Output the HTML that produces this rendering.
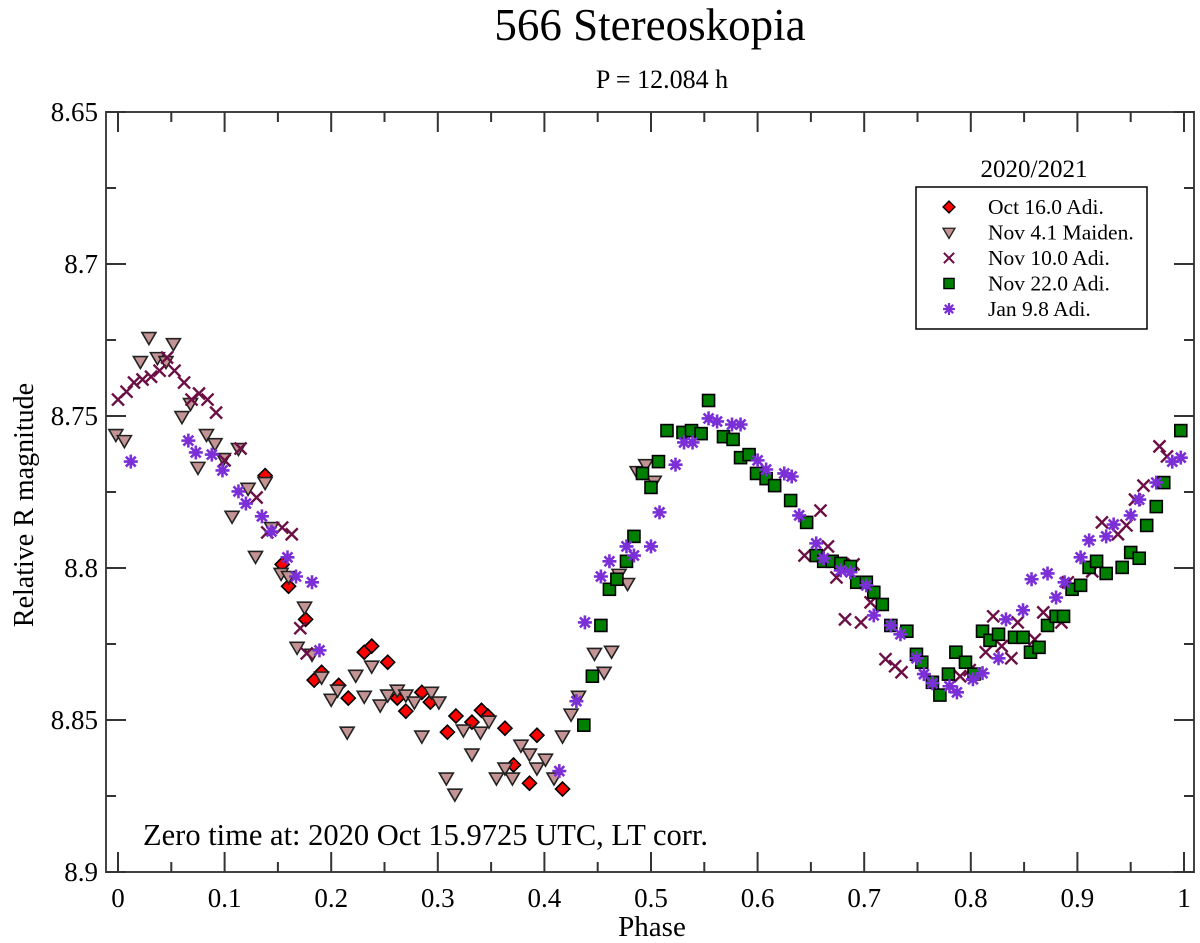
<!DOCTYPE html>
<html><head><meta charset="utf-8"><style>
html,body{margin:0;padding:0;background:#fff;}
svg{display:block;font-family:"Liberation Serif",serif;}
</style></head><body>
<svg id="chart" width="1200" height="943" viewBox="0 0 1200 943" xmlns="http://www.w3.org/2000/svg">
<text x="650" y="40" font-size="45" text-anchor="middle">566 Stereoskopia</text>
<text x="662" y="88" font-size="26" text-anchor="middle">P = 12.084 h</text>
<rect x="106" y="112" width="1088" height="760" fill="none" stroke="#444" stroke-width="2"/>
<g id="ticks"></g>
<g id="marks"></g>
<text x="143" y="845" font-size="30.5">Zero time at: 2020 Oct 15.9725 UTC, LT corr.</text>
<text x="652" y="936" font-size="29" text-anchor="middle">Phase</text>
<text transform="translate(33,505) rotate(-90)" font-size="28" text-anchor="middle">Relative R magnitude</text>
<g>
<text x="1034" y="177" font-size="25" text-anchor="middle">2020/2021</text>
<rect x="916" y="187" width="231" height="142" fill="#fff" stroke="#000" stroke-width="1.5"/>
<g id="legend"></g>
</g>
</svg>
<script>
const xTicks=[0,0.1,0.2,0.3,0.4,0.5,0.6,0.7,0.8,0.9,1];
const xTickLabels=["0","0.1","0.2","0.3","0.4","0.5","0.6","0.7","0.8","0.9","1"];
const yTicks=[8.65,8.7,8.75,8.8,8.85,8.9];
const yTickLabels=["8.65","8.7","8.75","8.8","8.85","8.9"];

const octPhase=[0.138,0.154,0.160,0.176,0.184,0.191,0.207,0.216,0.231,0.238,0.253,0.262,0.270,0.285,0.293,0.309,0.317,0.332,0.341,0.347,0.363,0.371,0.386,0.393,0.417];
const octMag=[8.7696,8.7988,8.8060,8.8169,8.8369,8.8343,8.8386,8.8428,8.8277,8.8257,8.8310,8.8428,8.8471,8.8409,8.8441,8.8540,8.8487,8.8507,8.8468,8.8487,8.8527,8.8648,8.8708,8.8550,8.8727];

const nov4Phase=[-0.002,0.006,0.021,0.029,0.037,0.045,0.052,0.060,0.068,0.075,0.083,0.091,0.099,0.107,0.113,0.122,0.129,0.138,0.144,0.153,0.160,0.175,0.168,0.182,0.191,0.200,0.206,0.215,0.223,0.238,0.231,0.246,0.253,0.262,0.270,0.278,0.285,0.294,0.301,0.308,0.316,0.324,0.332,0.340,0.348,0.355,0.363,0.370,0.378,0.386,0.393,0.401,0.409,0.417,0.425,0.432,0.447,0.456,0.463,0.470,0.478,0.487,0.495,0.503];
const nov4Mag=[8.7561,8.7581,8.7321,8.7242,8.7308,8.7321,8.7262,8.7502,8.7459,8.7669,8.7561,8.7591,8.7640,8.7830,8.7607,8.7738,8.7962,8.7719,8.7867,8.8018,8.8028,8.8129,8.8261,8.8284,8.8359,8.8432,8.8402,8.8540,8.8353,8.8323,8.8422,8.8451,8.8418,8.8402,8.8418,8.8441,8.8553,8.8409,8.8441,8.8691,8.8744,8.8533,8.8612,8.8540,8.8504,8.8691,8.8658,8.8691,8.8583,8.8612,8.8658,8.8629,8.8691,8.8553,8.8481,8.8422,8.8281,8.8343,8.8274,8.8021,8.8051,8.7683,8.7660,8.7715];

const nov10Phase=[0.000,0.008,0.015,0.023,0.031,0.039,0.046,0.053,0.062,0.069,0.076,0.084,0.092,0.100,0.115,0.130,0.140,0.154,0.163,0.171,0.177,0.644,0.659,0.666,0.674,0.690,0.682,0.697,0.706,0.720,0.729,0.735,0.790,0.799,0.814,0.821,0.829,0.838,0.844,0.860,0.868,0.885,0.891,0.914,0.923,0.938,0.946,0.954,0.962,0.977,0.984];
const nov10Mag=[8.7446,8.7420,8.7390,8.7380,8.7371,8.7351,8.7308,8.7351,8.7390,8.7446,8.7426,8.7446,8.7489,8.7646,8.7607,8.7768,8.7883,8.7867,8.7889,8.8198,8.8281,8.7959,8.7811,8.7929,8.8031,8.7988,8.8169,8.8179,8.8113,8.8300,8.8323,8.8343,8.8356,8.8336,8.8277,8.8159,8.8257,8.8297,8.8179,8.8235,8.8146,8.8179,8.8047,8.8011,8.7850,8.7889,8.7860,8.7775,8.7729,8.7600,8.7633];

const nov22Phase=[0.437,0.445,0.453,0.461,0.468,0.477,0.484,0.492,0.500,0.507,0.515,0.530,0.538,0.547,0.554,0.568,0.577,0.584,0.592,0.599,0.608,0.616,0.631,0.646,0.655,0.662,0.670,0.678,0.687,0.693,0.702,0.709,0.717,0.725,0.740,0.749,0.754,0.764,0.771,0.779,0.786,0.795,0.803,0.811,0.818,0.826,0.841,0.849,0.856,0.864,0.872,0.880,0.887,0.895,0.903,0.911,0.918,0.927,0.942,0.950,0.958,0.965,0.974,0.981,0.997];
const nov22Mag=[8.8517,8.8356,8.8189,8.8070,8.8037,8.7978,8.7896,8.7689,8.7735,8.7650,8.7548,8.7554,8.7548,8.7558,8.7449,8.7568,8.7577,8.7637,8.7627,8.7689,8.7706,8.7729,8.7778,8.7850,8.7959,8.7978,8.7978,8.7985,8.7995,8.8047,8.8047,8.8080,8.8120,8.8189,8.8208,8.8284,8.8310,8.8376,8.8418,8.8349,8.8277,8.8310,8.8349,8.8208,8.8238,8.8218,8.8228,8.8228,8.8277,8.8261,8.8189,8.8159,8.8159,8.8070,8.8057,8.7998,8.7978,8.8018,8.7998,8.7949,8.7968,8.7860,8.7798,8.7719,8.7548];

const janPhase=[0.012,0.066,0.073,0.088,0.098,0.113,0.120,0.135,0.144,0.159,0.167,0.182,0.189,0.414,0.430,0.438,0.453,0.461,0.477,0.484,0.500,0.508,0.523,0.531,0.539,0.554,0.562,0.576,0.584,0.600,0.608,0.625,0.632,0.639,0.655,0.662,0.678,0.687,0.702,0.709,0.725,0.734,0.749,0.756,0.764,0.780,0.787,0.802,0.811,0.826,0.833,0.849,0.857,0.872,0.880,0.888,0.903,0.911,0.927,0.934,0.950,0.958,0.974,0.989,0.997];
const janMag=[8.7650,8.7581,8.7620,8.7627,8.7679,8.7748,8.7788,8.7830,8.7880,8.7965,8.8028,8.8047,8.8271,8.8668,8.8438,8.8179,8.8028,8.7978,8.7929,8.7959,8.7929,8.7817,8.7660,8.7587,8.7587,8.7508,8.7518,8.7528,8.7528,8.7646,8.7676,8.7689,8.7699,8.7827,8.7919,8.7968,8.8008,8.8014,8.8057,8.8156,8.8189,8.8218,8.8297,8.8349,8.8379,8.8389,8.8409,8.8366,8.8346,8.8297,8.8169,8.8139,8.8037,8.8018,8.8097,8.8047,8.7965,8.7909,8.7896,8.7857,8.7827,8.7775,8.7719,8.7650,8.7637];

const NS="http://www.w3.org/2000/svg";
const X0=118, XS=1066, Y0=112, YS=3040, YMIN=8.65;
function sx(p){return X0+p*XS;}
function sy(m){return Y0+(m-YMIN)*YS;}
function mk(tag,attrs,parent){const e=document.createElementNS(NS,tag);for(const k in attrs)e.setAttribute(k,attrs[k]);parent.appendChild(e);return e;}

const ticks=document.getElementById('ticks');
for(let i=0;i<=20;i++){
  const p=i*0.05, x=sx(p), len=(i%2===0)?20:10;
  const t1=mk('line',{x1:x,y1:872,x2:x,y2:872-len,stroke:'#333','stroke-width':2},ticks);
  
  
  const t2=mk('line',{x1:x,y1:112,x2:x,y2:112+len,stroke:'#333','stroke-width':2},ticks);
  
  
}
for(let i=0;i<=10;i++){
  const m=YMIN+i*0.025, y=sy(m), len=(i%2===0)?20:10;
  const t1=mk('line',{x1:106,y1:y,x2:106+len,y2:y,stroke:'#333','stroke-width':2},ticks);
  
  
  const t2=mk('line',{x1:1194,y1:y,x2:1194-len,y2:y,stroke:'#333','stroke-width':2},ticks);
  
  
}
xTicks.forEach((v,i)=>{
  const t=mk('text',{x:sx(v),y:907,'font-size':27,'text-anchor':'middle'},ticks);
  t.textContent=xTickLabels[i];
  
  
});
yTicks.forEach((v,i)=>{
  const t=mk('text',{x:98,y:sy(v)+9,'font-size':27,'text-anchor':'end'},ticks);
  t.textContent=yTickLabels[i];
  
  
});

function drawMarker(type,x,y,parent){
  let e;
  if(type==='diamond'){
    e=mk('path',{d:`M${x} ${y-7}L${x+7} ${y}L${x} ${y+7}L${x-7} ${y}Z`,fill:'#ff0000',stroke:'#000','stroke-width':1.6},parent);
  }else if(type==='tri'){
    e=mk('path',{d:`M${x-7} ${y-5}L${x+7} ${y-5}L${x} ${y+7}Z`,fill:'#c49494',stroke:'#222','stroke-width':1.6},parent);
  }else if(type==='cross'){
    e=mk('path',{d:`M${x-6} ${y-6}L${x+6} ${y+6}M${x+6} ${y-6}L${x-6} ${y+6}`,stroke:'#6b0f45','stroke-width':2.4,fill:'none'},parent);
  }else if(type==='square'){
    e=mk('rect',{x:x-6,y:y-6,width:12,height:12,fill:'#008000',stroke:'#000','stroke-width':1.6},parent);
  }else{
    let d='';
    for(let k=0;k<4;k++){const a=k*Math.PI/4;const dx=7*Math.cos(a),dy=7*Math.sin(a);d+=`M${x-dx} ${y-dy}L${x+dx} ${y+dy}`;}
    e=mk('path',{d:d,stroke:'#7b2fd6','stroke-width':2.6,fill:'none'},parent);
  }
  return e;
}
const marks=document.getElementById('marks');
const series=[
  {name:'oct16',type:'diamond',ph:octPhase,mg:octMag},
  {name:'nov4',type:'tri',ph:nov4Phase,mg:nov4Mag},
  {name:'nov10',type:'cross',ph:nov10Phase,mg:nov10Mag},
  {name:'nov22',type:'square',ph:nov22Phase,mg:nov22Mag},
  {name:'jan9',type:'star',ph:janPhase,mg:janMag}
];
series.forEach(s=>{
  const g=mk('g',{},marks);
  
  
  s.ph.forEach((p,i)=>{
    const e=drawMarker(s.type,sx(p),sy(s.mg[i]),g);
    
    
  });
});
const legendLabels=["Oct 16.0 Adi.","Nov 4.1 Maiden.","Nov 10.0 Adi.","Nov 22.0 Adi.","Jan 9.8 Adi."];
const legendTypes=['diamond','tri','cross','square','star'];
const lg=document.getElementById('legend');
legendLabels.forEach((lab,i)=>{
  const y=207+i*25.5;
  const g=mk('g',{},lg);
  
  
  const m=drawMarker(legendTypes[i],949,y,g);
  m.setAttribute('transform',`translate(949 ${y}) scale(0.85) translate(-949 ${-y})`);
  const t=mk('text',{x:988,y:y+7,'font-size':21.5},g);
  t.textContent=lab;
});
</script>
</body></html>
